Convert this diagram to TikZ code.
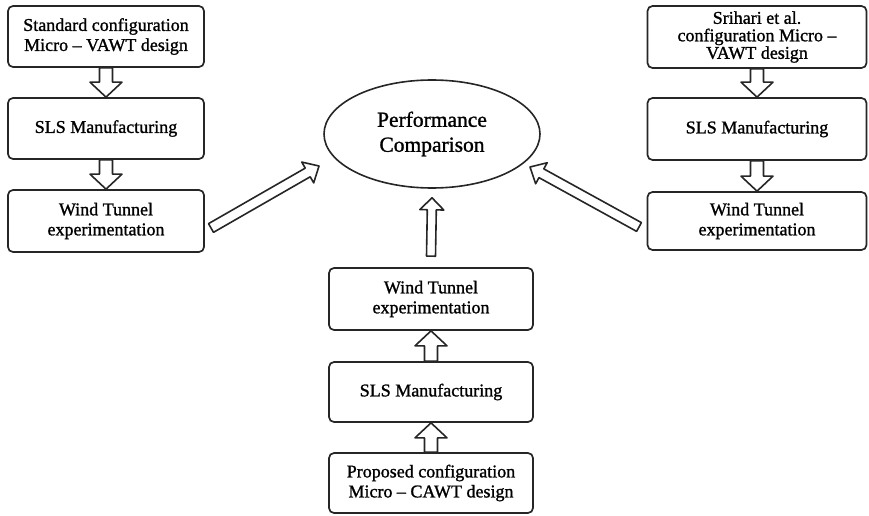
\documentclass[tikz,border=0pt]{standalone}
\usepackage{fontspec}
\setmainfont{Liberation Serif}[UprightFeatures={FakeBold=1.2}]
\usetikzlibrary{calc,shapes.geometric}

\tikzset{
  stage/.style={draw=black!85, line width=1.7pt, rounded corners=5pt, fill=white,
    align=center, inner sep=0pt, font=\fontsize{18}{20}\selectfont},
  goal/.style={draw=black!85, line width=1.6pt, ellipse, align=center, inner sep=0pt,
    font=\fontsize{21.5}{25}\selectfont},
  blockarrow/.style={draw=black!85, line width=1.6pt, line join=round, fill=white},
}

% Hollow block arrow from #1 (tail) to #2 (tip):
% #3 half shaft width, #4 half head width, #5 head length
\newcommand\hollowarrow[5]{%
  \path ($(#2)!#5!(#1)$) coordinate (hb);
  \draw[blockarrow]
    ($(#1)!#3!90:(#2)$) -- ($(hb)!#3!90:(#2)$) -- ($(hb)!#4!90:(#2)$) -- (#2)
    -- ($(hb)!#4!-90:(#2)$) -- ($(hb)!#3!-90:(#2)$) -- ($(#1)!#3!-90:(#2)$) -- cycle;
}

\begin{document}
\begin{tikzpicture}[x=1pt,y=-1pt]
\useasboundingbox (0,0) rectangle (869,516);

% left chain
\node[stage, minimum width=196pt, minimum height=61pt] (l1) at (106,36.5)
  {Standard configuration\\Micro -- VAWT design};
\node[stage, minimum width=196pt, minimum height=61pt] (l2) at (106,128.5)
  {SLS Manufacturing};
\node[stage, minimum width=196pt, minimum height=62pt] (l3) at (106,221)
  {Wind Tunnel\\experimentation};

% right chain
\node[stage, minimum width=219pt, minimum height=62pt,
  font=\fontsize{18}{17.5}\selectfont] (r1) at (757,37)
  {Srihari et al.\\configuration Micro --\\VAWT design};
\node[stage, minimum width=219pt, minimum height=62pt] (r2) at (757,129)
  {SLS Manufacturing};
\node[stage, minimum width=219pt, minimum height=58pt] (r3) at (757,221)
  {Wind Tunnel\\experimentation};

% centre chain
\node[stage, minimum width=204pt, minimum height=62pt] (c3) at (431,299)
  {Wind Tunnel\\experimentation};
\node[stage, minimum width=204pt, minimum height=60pt] (c2) at (431,392)
  {SLS Manufacturing};
\node[stage, minimum width=204pt, minimum height=60pt] (c1) at (431,483)
  {Proposed configuration\\Micro -- CAWT design};

% goal
\node[goal, minimum width=216pt, minimum height=108pt] (pc) at (432,134)
  {Performance\\Comparison};

% vertical connectors
\hollowarrow{l1.south}{l2.north}{6.5pt}{16pt}{15pt}
\hollowarrow{l2.south}{l3.north}{6.5pt}{16pt}{15pt}
\hollowarrow{r1.south}{r2.north}{6.5pt}{16pt}{15pt}
\hollowarrow{r2.south}{r3.north}{6.5pt}{16pt}{15pt}
\hollowarrow{c2.north}{c3.south}{6.5pt}{16pt}{15pt}
\hollowarrow{c1.north}{c2.south}{6.5pt}{16pt}{15pt}

% connectors into the comparison
\coordinate (ct) at ($(c3.north)+(0,-11)$);
\coordinate (cp) at ($(pc.south)+(0,9)$);
\hollowarrow{ct}{cp}{4.5pt}{12pt}{12pt}

\coordinate (lt) at (211,228);
\coordinate (lp) at (319,166);
\hollowarrow{lt}{lp}{5pt}{12pt}{13pt}

\coordinate (rt) at (639,227);
\coordinate (rp) at (530,167);
\hollowarrow{rt}{rp}{5pt}{12pt}{13pt}
\end{tikzpicture}
\end{document}
